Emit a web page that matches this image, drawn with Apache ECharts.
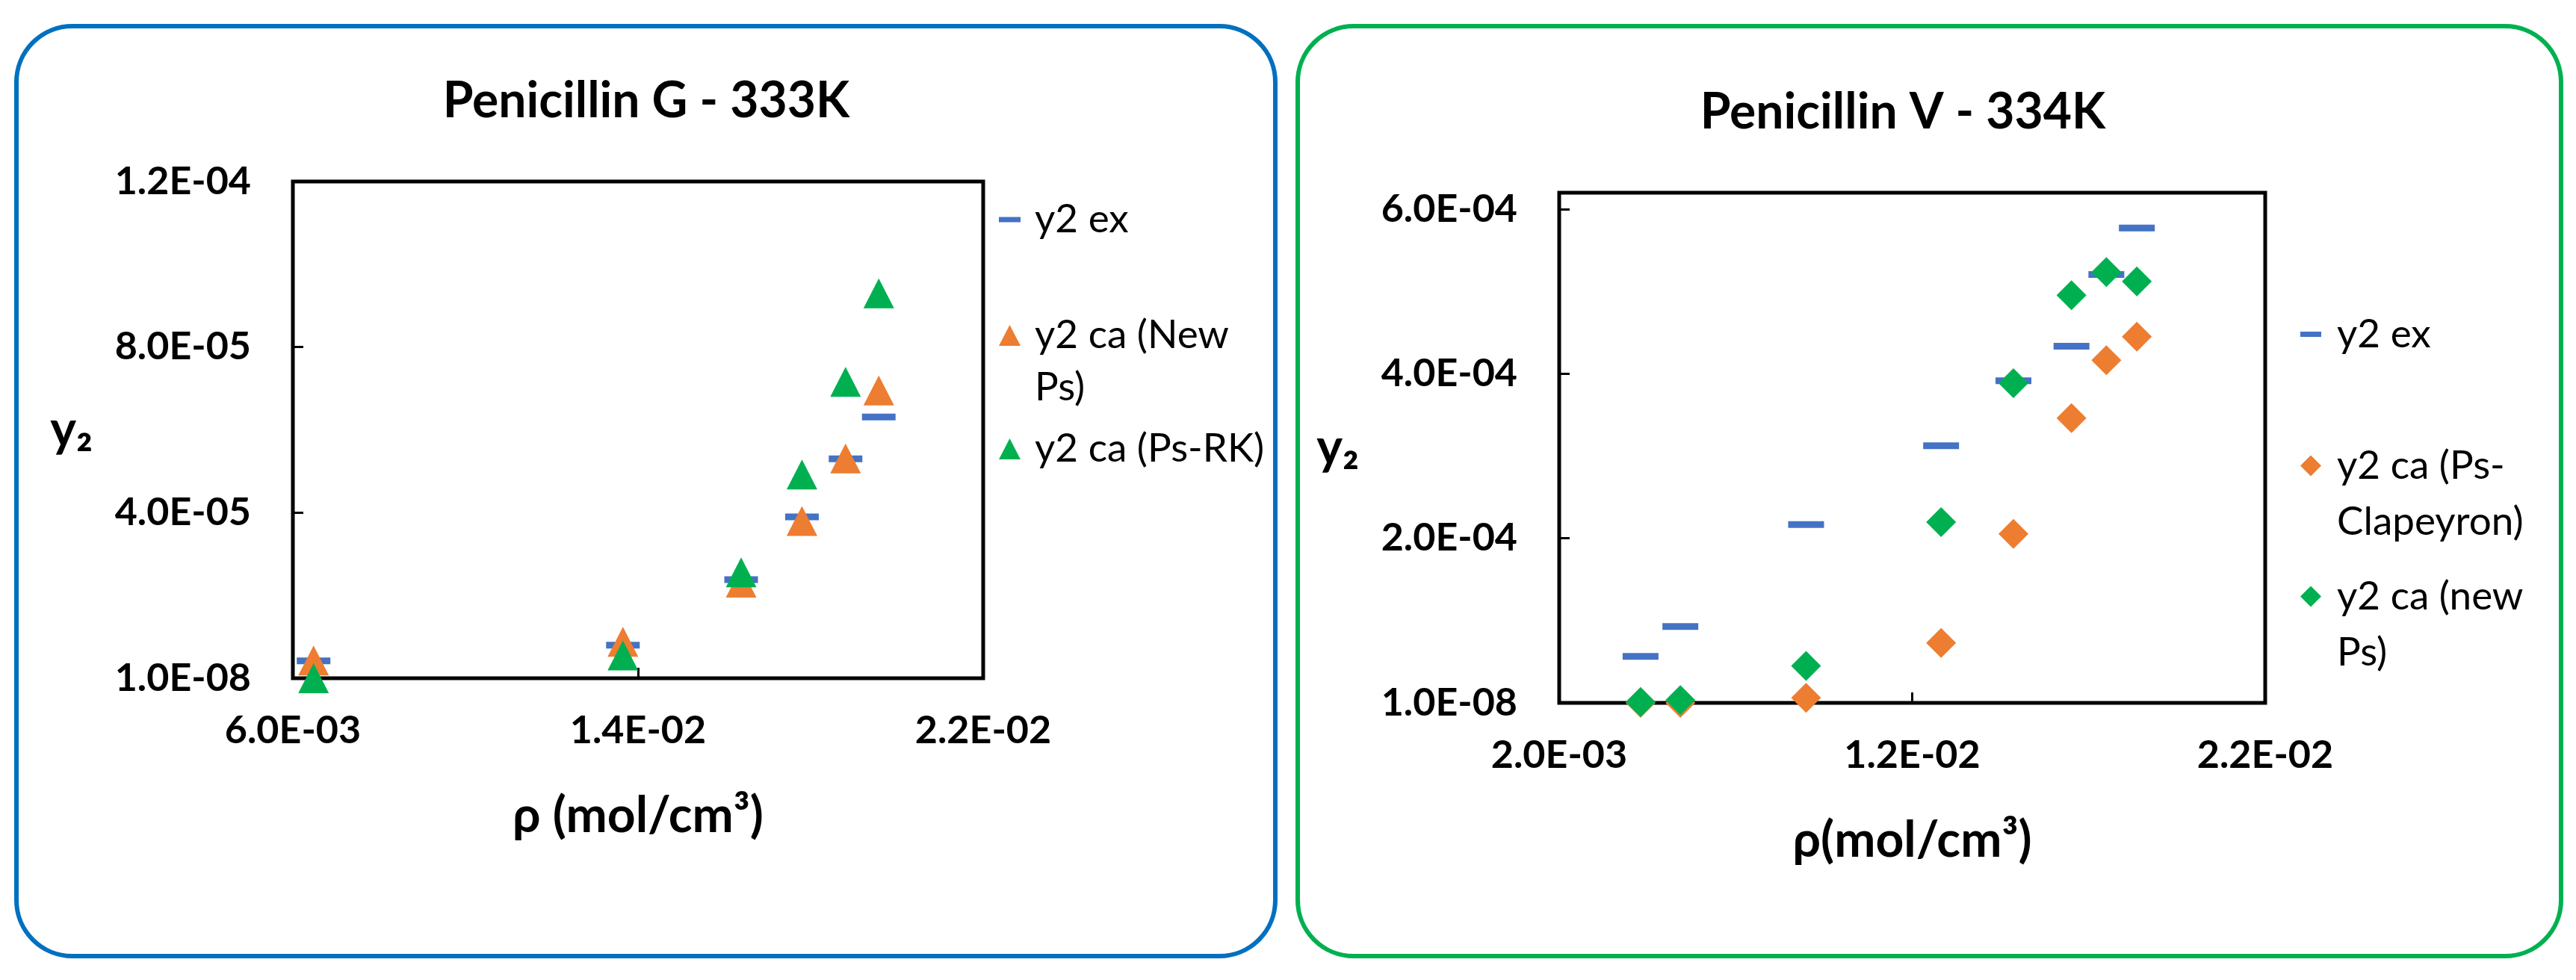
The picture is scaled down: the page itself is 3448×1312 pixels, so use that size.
<!DOCTYPE html>
<html>
<head>
<meta charset="utf-8">
<title>Penicillin G / Penicillin V</title>
<script src="https://cdn.jsdelivr.net/npm/echarts@6/dist/echarts.min.js"></script>
<style>
    html, body { margin: 0; padding: 0; background: #fff; }
    #main { width: 3448px; height: 1312px; }
</style>
</head>
<body>
<div id="main"></div>
<script>
// Penicillin G - 333K
var rhoG = [0.00648, 0.01365, 0.01639, 0.01780, 0.01881, 0.01958];
var y2exG = [4.2e-6, 8.0e-6, 2.38e-5, 3.90e-5, 5.30e-5, 6.31e-5];
var y2NewPsG = [4.3e-6, 8.8e-6, 2.31e-5, 3.80e-5, 5.31e-5, 6.95e-5];
var y2PsRKG = [1.0e-8, 5.5e-6, 2.56e-5, 4.92e-5, 7.16e-5, 9.30e-5];
var xTicksG = ['6.0E-03', '1.4E-02', '2.2E-02'];
var yTicksG = ['1.0E-08', '4.0E-05', '8.0E-05', '1.2E-04'];
var namesG = ['y2 ex', 'y2 ca (New Ps)', 'y2 ca (Ps-RK)'];
var legendTextG = ['y2 ex', 'y2 ca (New\nPs)', 'y2 ca (Ps-RK)'];

// Penicillin V - 334K
var rhoV = [0.004305, 0.005432, 0.008994, 0.012819, 0.014868, 0.016512, 0.017500, 0.018364];
var y2exV = [5.64e-5, 9.28e-5, 2.168e-4, 3.125e-4, 3.914e-4, 4.335e-4, 5.207e-4, 5.771e-4];
var y2ClapV = [1.0e-8, 1.0e-8, 6.1e-6, 7.28e-5, 2.053e-4, 3.46e-4, 4.164e-4, 4.45e-4];
var y2NewPsV = [1.2e-6, 3.3e-6, 4.5e-5, 2.196e-4, 3.885e-4, 4.953e-4, 5.235e-4, 5.121e-4];
var xTicksV = ['2.0E-03', '1.2E-02', '2.2E-02'];
var yTicksV = ['1.0E-08', '2.0E-04', '4.0E-04', '6.0E-04'];
var namesV = ['y2 ex', 'y2 ca (Ps-Clapeyron)', 'y2 ca (new Ps)'];
var legendTextV = ['y2 ex', 'y2 ca (Ps-\nClapeyron)', 'y2 ca (new\nPs)'];

var FONT = 'Lato, "Noto Sans", sans-serif';
var BLUE = '#4472C4', ORANGE = '#ED7D31', GREEN = '#00B050';

function pairs(xs, ys) {
    var out = [];
    for (var i = 0; i < xs.length; i++) {
        out.push([xs[i], ys[i]]);
    }
    return out;
}

// tick labels come from the arrays, by step index from min
function tickFormatter(list, min, step) {
    return function (v) {
        var i = Math.round((v - min) / step);
        if (Math.abs(v - (min + i * step)) > step * 1e-3) return '';
        return list[i] || '';
    };
}

function xAxisOpt(idx, min, max, step, ticks, name) {
    return {
        type: 'value', gridIndex: idx, min: min, max: max, interval: step,
        name: name, nameLocation: 'middle', nameGap: 152,
        nameTextStyle: { fontFamily: FONT, fontSize: 66, fontWeight: 'bold', color: '#000' },
        axisLine: { show: false },
        axisTick: { show: true, inside: true, length: 14, lineStyle: { color: '#000', width: 3 } },
        splitLine: { show: false },
        axisLabel: { margin: 44, fontFamily: FONT, fontSize: 52, fontWeight: 'bold', color: '#000',
            formatter: tickFormatter(ticks, min, step) }
    };
}

function yAxisOpt(idx, max, step, ticks) {
    return {
        type: 'value', gridIndex: idx, min: 0, max: max, interval: step,
        name: 'y\u2082', nameLocation: 'middle', nameGap: 268, nameRotate: 0,
        nameTextStyle: { fontFamily: FONT, fontSize: 66, fontWeight: 'bold', color: '#000' },
        axisLine: { show: false },
        axisTick: { show: true, inside: true, length: 14, lineStyle: { color: '#000', width: 3 } },
        splitLine: { show: false },
        axisLabel: { margin: 56, fontFamily: FONT, fontSize: 52, fontWeight: 'bold', color: '#000',
            formatter: tickFormatter(ticks, 0, step) }
    };
}

function scatter(name, idx, data, symbol, size, color) {
    return {
        name: name, type: 'scatter', xAxisIndex: idx, yAxisIndex: idx,
        data: data, symbol: symbol, symbolSize: size,
        itemStyle: { color: color, opacity: 1 },
        emphasis: { disabled: true }
    };
}

// one legend per entry so the gaps can follow the picture;
// a wrapped label gets an empty line on top so its first line sits on the icon
function legendOpt(name, label, left, top, icon, w, h, lineH, padLeft) {
    var text = label.indexOf('\n') >= 0 ? ' \n' + label : label;
    return {
        data: [{ name: name, icon: icon }],
        left: left, top: top, padding: 0,
        itemWidth: w, itemHeight: h,
        selectedMode: false,
        formatter: function () { return text; },
        textStyle: {
            fontFamily: FONT, fontSize: 53, color: '#000', lineHeight: lineH,
            padding: [0, 0, 0, padLeft]
        }
    };
}

var chart = echarts.init(document.getElementById('main'));

var option = {
    backgroundColor: '#fff',
    animation: false,
    title: [
        { text: 'Penicillin G - 333K', left: 865, top: 103, textAlign: 'center', padding: 0,
          textStyle: { fontFamily: FONT, fontSize: 66, fontWeight: 'bold', color: '#000' } },
        { text: 'Penicillin V - 334K', left: 2547, top: 118, textAlign: 'center', padding: 0,
          textStyle: { fontFamily: FONT, fontSize: 66, fontWeight: 'bold', color: '#000' } }
    ],
    graphic: [
        { type: 'rect', z: 0, shape: { x: 22, y: 35, width: 1685, height: 1245, r: 75 },
          style: { fill: null, stroke: '#0070C0', lineWidth: 6 } },
        { type: 'rect', z: 0, shape: { x: 1737, y: 35, width: 1691, height: 1245, r: 75 },
          style: { fill: null, stroke: '#00B050', lineWidth: 6 } }
    ],
    grid: [
        { left: 392, top: 243, width: 924, height: 665, show: true, borderColor: '#000', borderWidth: 5, backgroundColor: 'transparent' },
        { left: 2087, top: 258, width: 945, height: 683, show: true, borderColor: '#000', borderWidth: 5, backgroundColor: 'transparent' }
    ],
    xAxis: [
        xAxisOpt(0, 0.006, 0.022, 0.008, xTicksG, '\u03c1 (mol/cm\u00b3)'),
        xAxisOpt(1, 0.002, 0.022, 0.010, xTicksV, '\u03c1(mol/cm\u00b3)')
    ],
    yAxis: [
        yAxisOpt(0, 1.2e-4, 4e-5, yTicksG),
        yAxisOpt(1, 6.2e-4, 2e-4, yTicksV)
    ],
    legend: [
        legendOpt(namesG[0], legendTextG[0], 1337, 259, 'rect', 29, 7, 70, 14),
        legendOpt(namesG[1], legendTextG[1], 1337, 344, 'triangle', 29, 28, 70, 14),
        legendOpt(namesG[2], legendTextG[2], 1337, 566, 'triangle', 29, 28, 70, 14),
        legendOpt(namesV[0], legendTextV[0], 3079, 410, 'rect', 28, 7, 75, 16),
        legendOpt(namesV[1], legendTextV[1], 3079, 511, 'diamond', 28, 28, 75, 16),
        legendOpt(namesV[2], legendTextV[2], 3079, 686, 'diamond', 28, 28, 75, 16)
    ],
    series: [
        scatter(namesG[0], 0, pairs(rhoG, y2exG), 'rect', [45, 9], BLUE),
        scatter(namesG[1], 0, pairs(rhoG, y2NewPsG), 'triangle', [41, 40], ORANGE),
        scatter(namesG[2], 0, pairs(rhoG, y2PsRKG), 'triangle', [41, 40], GREEN),
        scatter(namesV[0], 1, pairs(rhoV, y2exV), 'rect', [48, 9], BLUE),
        scatter(namesV[1], 1, pairs(rhoV, y2ClapV), 'diamond', [40, 40], ORANGE),
        scatter(namesV[2], 1, pairs(rhoV, y2NewPsV), 'diamond', [40, 40], GREEN)
    ]
};

chart.setOption(option);
</script>
</body>
</html>
